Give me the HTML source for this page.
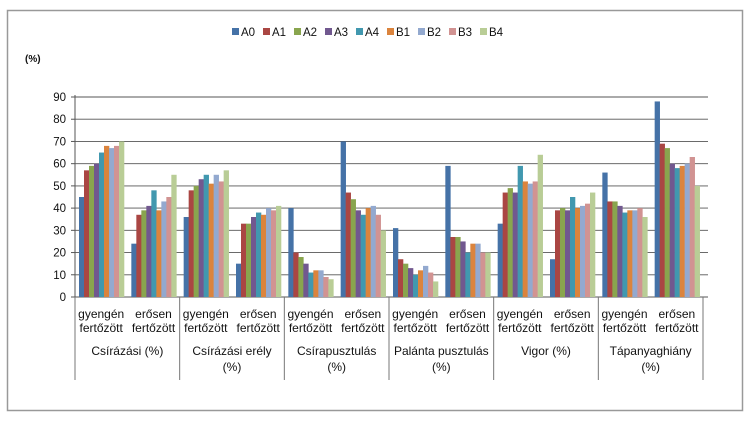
<!DOCTYPE html>
<html><head><meta charset="utf-8"><style>
body{margin:0;background:#fff;width:750px;height:419px;overflow:hidden}
svg text{font-family:"Liberation Sans",sans-serif;fill:#111}
</style></head><body>
<svg id="s" width="750" height="419" xmlns="http://www.w3.org/2000/svg"></svg>
<script>
const s=document.getElementById('s');
let h='<rect x="7.5" y="10.5" width="735" height="400" fill="#fff" stroke="#999" stroke-width="1.5"/>';
const col=['#4572a7','#aa4643','#89a54e','#71588f','#4198af','#db843d','#93a9cf','#d19392','#b9cd96'];
const nm=['A0','A1','A2','A3','A4','B1','B2','B3','B4'];
let lx=232;
nm.forEach((n,i)=>{h+=`<rect x="${lx}" y="28" width="7" height="7" fill="${col[i]}"/><text x="${lx+9}" y="36" font-size="11.5">${n}</text>`;lx+=31;});
h+='<text x="25" y="62" font-size="10" font-weight="bold">(%)</text>';
const y0=297,k=200/90,X0=75,X1=703;
for(let v=0;v<=90;v+=10){const y=y0-v*k;
 h+=`<line x1="${X0}" y1="${y}" x2="${X1+5}" y2="${y}" stroke="#555" stroke-width="0.9"/><line x1="${X0-4}" y1="${y}" x2="${X0}" y2="${y}" stroke="#555"/><text x="${X0-9}" y="${y+4}" font-size="11.5" text-anchor="end">${v}</text>`;}
h+=`<line x1="${X0}" y1="95" x2="${X0}" y2="${y0}" stroke="#555"/>`;
const d=[[45,57,59,60,65,68,67,68,70],[24,37,39,41,48,39,43,45,55],
[36,48,50,53,55,51,55,52,57],[15,33,33,36,38,37,40,39,41],
[40,20,18,15,11,12,12,9,8],[70,47,44,39,37,40,41,37,30],
[31,17,15,13,10,12,14,11,7],[59,27,27,25,20,24,24,20,20],
[33,47,49,47,59,52,51,52,64],[17,39,40,39,45,40,41,42,47],
[56,43,43,41,38,39,39,40,36],[88,69,67,60,58,59,60,63,50]];
const sw=(X1-X0)/12;
d.forEach((g,j)=>{g.forEach((v,i)=>{const x=X0+j*sw+4+i*5,y=y0-v*k;
 h+=`<rect x="${x}" y="${y}" width="5.3" height="${v*k}" fill="${col[i]}"/>`;});});
const gn=[['Csírázási (%)'],['Csírázási erély','(%)'],['Csírapusztulás','(%)'],['Palánta pusztulás','(%)'],['Vigor (%)'],['Tápanyaghiány','(%)']];
for(let j=0;j<=6;j++){const x=X0+j*2*sw;h+=`<line x1="${x}" y1="${y0}" x2="${x}" y2="380" stroke="#777"/>`;}
for(let j=0;j<12;j++){const cx=X0+j*sw+sw/2;
 h+=`<text x="${cx}" y="318" font-size="12" text-anchor="middle">${j%2?'erősen':'gyengén'}</text><text x="${cx}" y="332" font-size="12" text-anchor="middle">fertőzött</text>`;}
gn.forEach((g,j)=>{const cx=X0+j*2*sw+sw;g.forEach((t,l)=>{h+=`<text x="${cx}" y="${355+l*16}" font-size="12" text-anchor="middle">${t}</text>`;});});
s.innerHTML=h;
</script>
</body></html>
